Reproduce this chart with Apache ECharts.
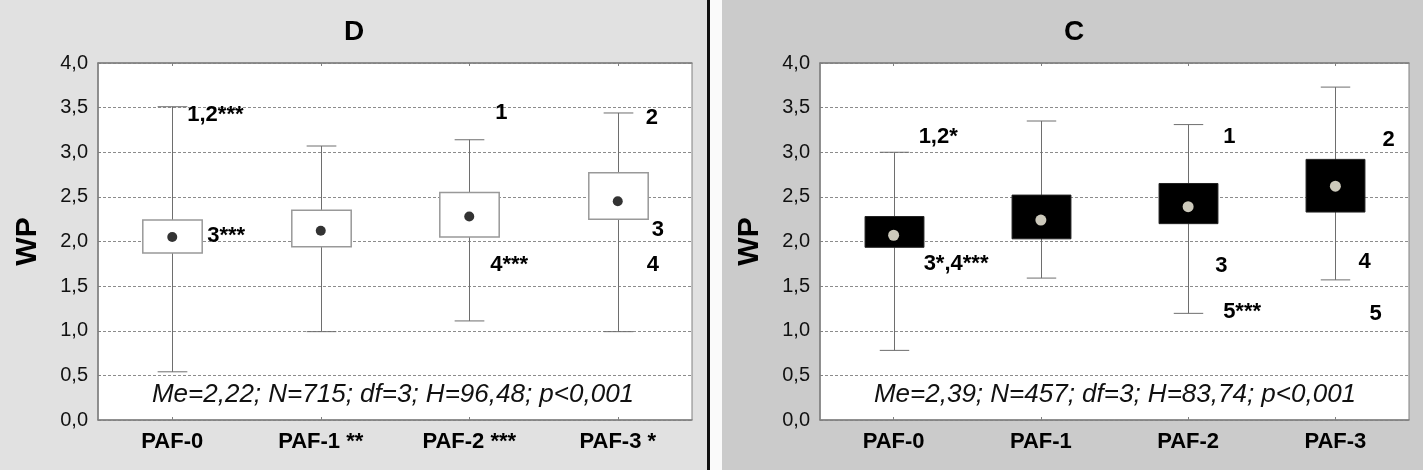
<!DOCTYPE html>
<html><head><meta charset="utf-8">
<script src="https://cdn.jsdelivr.net/npm/echarts@6/dist/echarts.min.js"></script>
<style>
html,body{margin:0;padding:0;}
#c{width:1423px;height:470px;background:linear-gradient(to right,#e1e1e1 0,#e1e1e1 707px,#111 707px,#111 710px,#fafafa 710px,#fafafa 722px,#cbcbcb 722px,#cbcbcb 1423px);}
</style>
</head><body><div id="c"></div><script>
// ---- data ----
const titleD = 'D';
const titleC = 'C';
const yName = 'WP';
const categoriesD = ['PAF-0', 'PAF-1 **', 'PAF-2 ***', 'PAF-3 *'];
const categoriesC = ['PAF-0', 'PAF-1', 'PAF-2', 'PAF-3'];
const yTickLabels = ['0,0', '0,5', '1,0', '1,5', '2,0', '2,5', '3,0', '3,5', '4,0'];

// panel D
const whiskerLowD  = [0.54, 0.99, 1.11, 0.99];
const boxLowD      = [1.87, 1.94, 2.05, 2.25];
const boxHighD     = [2.24, 2.35, 2.55, 2.77];
const whiskerHighD = [3.51, 3.07, 3.14, 3.44];
const meanD        = [2.05, 2.12, 2.28, 2.45];
const noteTextD = ['1,2***', '3***', '1', '4***', '2', '3', '4'];
const noteCatD  = [0, 0, 2, 2, 3, 3, 3];
const noteValD  = [3.42, 2.06, 3.44, 1.74, 3.39, 2.13, 1.74];
const statsD = 'Me=2,22; N=715; df=3; H=96,48; p<0,001';

// panel C
const whiskerLowC  = [0.78, 1.59, 1.195, 1.57];
const boxLowC      = [1.935, 2.03, 2.20, 2.33];
const boxHighC     = [2.28, 2.52, 2.65, 2.92];
const whiskerHighC = [3.00, 3.35, 3.31, 3.73];
const meanC        = [2.07, 2.24, 2.39, 2.62];
const noteTextC = ['1,2*', '3*,4***', '1', '3', '5***', '2', '4', '5'];
const noteCatC  = [0, 0, 2, 2, 2, 3, 3, 3];
const noteValC  = [3.17, 1.75, 3.17, 1.73, 1.21, 3.14, 1.77, 1.19];
const statsC = 'Me=2,39; N=457; df=3; H=83,74; p<0,001';

// ---- layout (pixel offsets of note labels from category centre) ----
const noteDxD = [15, 35, 26, 21, 28, 34, 29];
const noteDxC = [25, 30, 35, 27, 35, 47, 23, 34];

const FONT = '"Liberation Sans", Arial, sans-serif';

function boxData(lo, bl, bh, hi) {
  return lo.map((v, i) => [i, v, bl[i], bh[i], hi[i]]);
}
function makeRender(fill, stroke, lw) {
  return function (params, api) {
    const x = api.value(0);
    const band = api.size([1, 0])[0];
    const bw = band * 0.4, cw = band * 0.2;
    const pLo = api.coord([x, api.value(1)]);
    const pBl = api.coord([x, api.value(2)]);
    const pBh = api.coord([x, api.value(3)]);
    const pHi = api.coord([x, api.value(4)]);
    const cx = Math.round(pLo[0]) + 0.5;
    const ws = { stroke: '#6e6e6e', lineWidth: 1 };
    return {
      type: 'group',
      children: [
        { type: 'line', shape: { x1: cx, y1: pHi[1], x2: cx, y2: pLo[1] }, style: ws },
        { type: 'line', shape: { x1: cx - cw / 2, y1: pHi[1], x2: cx + cw / 2, y2: pHi[1] }, style: ws },
        { type: 'line', shape: { x1: cx - cw / 2, y1: pLo[1], x2: cx + cw / 2, y2: pLo[1] }, style: ws },
        { type: 'rect', shape: { x: cx - bw / 2, y: pBh[1], width: bw, height: pBl[1] - pBh[1] },
          style: { fill: fill, stroke: stroke, lineWidth: lw } }
      ]
    };
  };
}
function makeNoteRender(texts, dxs) {
  return function (params, api) {
    const p = api.coord([api.value(0), api.value(1)]);
    return {
      type: 'text',
      x: p[0] + dxs[params.dataIndex],
      y: p[1],
      style: { text: texts[params.dataIndex], font: 'bold 22px ' + FONT, fill: '#000',
        align: 'left', verticalAlign: 'middle' }
    };
  };
}

const chart = echarts.init(document.getElementById('c'), null, { renderer: 'canvas' });

const grids = [
  { left: 98, right: 731, top: 63, bottom: 50 },
  { left: 820, right: 14, top: 63, bottom: 50 }
];
function xAxes(cats, gi) {
  return [
    { type: 'category', gridIndex: gi, data: cats, position: 'bottom',
      axisLine: { show: true, lineStyle: { color: '#808080', width: 1.5 } },
      axisTick: { show: true, alignWithLabel: true, inside: true, length: 3, lineStyle: { color: '#808080' } },
      axisLabel: { margin: 11, fontFamily: FONT, fontWeight: 'bold', fontSize: 22, color: '#000' },
      splitLine: { show: false } },
    { type: 'category', gridIndex: gi, data: cats, position: 'top',
      axisLine: { show: true, lineStyle: { color: '#808080', width: 1.5 } },
      axisTick: { show: true, alignWithLabel: true, inside: true, length: 3, lineStyle: { color: '#808080' } },
      axisLabel: { show: false } }
  ];
}
function yAxis(gi) {
  return { type: 'value', gridIndex: gi, min: 0, max: 4, interval: 0.5,
    name: yName, nameLocation: 'middle', nameGap: 55, nameRotate: 90,
    nameTextStyle: { fontFamily: FONT, fontWeight: 'bold', fontSize: 30, color: '#000' },
    axisLine: { show: true, lineStyle: { color: '#808080', width: 1.5 } },
    axisTick: { show: true, inside: true, length: 3, lineStyle: { color: '#808080' } },
    axisLabel: { margin: 10, fontFamily: FONT, fontSize: 20, color: '#111',
      formatter: (v, idx) => yTickLabels[Math.round(v / 0.5)] },
    splitLine: { show: true, lineStyle: { color: '#8c8c8c', type: [3, 2], width: 1 } } };
}

chart.setOption({
  animation: false,
  backgroundColor: 'transparent',
  grid: grids.map(g => Object.assign({ show: true, backgroundColor: '#fff', borderColor: '#808080', borderWidth: 1 }, g)),
  xAxis: xAxes(categoriesD, 0).concat(xAxes(categoriesC, 1)),
  yAxis: [yAxis(0), yAxis(1)],
  graphic: [
    { type: 'text', x: 354, y: 32, style: { text: titleD, font: 'bold 28px ' + FONT, fill: '#000', align: 'center', verticalAlign: 'middle' } },
    { type: 'text', x: 1074, y: 32, style: { text: titleC, font: 'bold 28px ' + FONT, fill: '#000', align: 'center', verticalAlign: 'middle' } },
    { type: 'text', x: 393, y: 395, z: 10, style: { text: statsD, font: 'italic 26px ' + FONT, fill: '#111', align: 'center', verticalAlign: 'middle' } },
    { type: 'text', x: 1115, y: 395, z: 10, style: { text: statsC, font: 'italic 26px ' + FONT, fill: '#111', align: 'center', verticalAlign: 'middle' } }
  ],
  series: [
    { type: 'custom', xAxisIndex: 0, yAxisIndex: 0, renderItem: makeRender('#fff', '#999', 1.5),
      data: boxData(whiskerLowD, boxLowD, boxHighD, whiskerHighD), z: 3 },
    { type: 'scatter', xAxisIndex: 0, yAxisIndex: 0, symbolSize: 10, itemStyle: { color: '#000' },
      data: meanD.map((v, i) => [i, v]), z: 4 },
    { type: 'custom', xAxisIndex: 0, yAxisIndex: 0, renderItem: makeNoteRender(noteTextD, noteDxD),
      data: noteCatD.map((c, i) => [c, noteValD[i]]), z: 5 },
    { type: 'custom', xAxisIndex: 2, yAxisIndex: 1, renderItem: makeRender('#000', '#222', 1),
      data: boxData(whiskerLowC, boxLowC, boxHighC, whiskerHighC), z: 3 },
    { type: 'scatter', xAxisIndex: 2, yAxisIndex: 1, symbolSize: 11, itemStyle: { color: '#fffbea' },
      data: meanC.map((v, i) => [i, v]), z: 4 },
    { type: 'custom', xAxisIndex: 2, yAxisIndex: 1, renderItem: makeNoteRender(noteTextC, noteDxC),
      data: noteCatC.map((c, i) => [c, noteValC[i]]), z: 5 }
  ]
});
</script></body></html>
